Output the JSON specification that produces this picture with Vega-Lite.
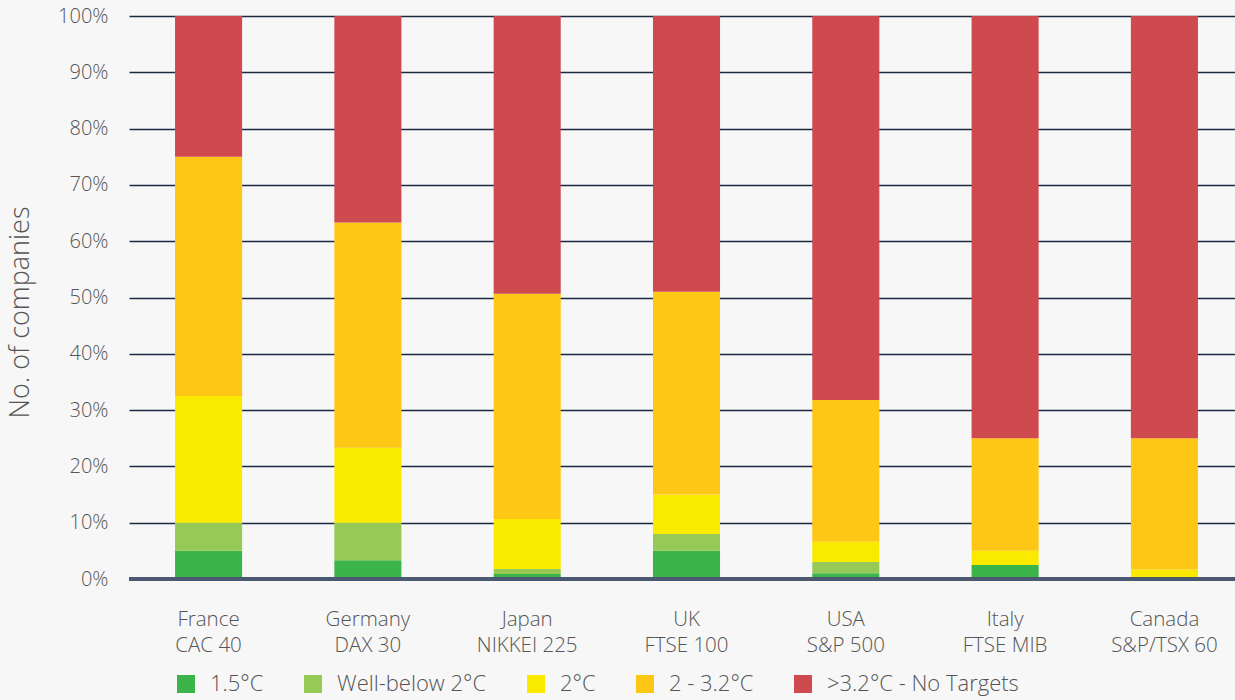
{
  "$schema": "https://vega.github.io/schema/vega-lite/v6.json",
  "width": 1115,
  "height": 563,
  "autosize": {"type": "none"},
  "padding": {"left": 129, "top": 16, "right": 0, "bottom": 121},
  "background": "#f7f7f7",
  "config": {
    "view": {"stroke": null},
    "font": "Open Sans",
    "axis": {"labelFont": "Open Sans", "titleFont": "Open Sans", "labelColor": "#555555", "titleColor": "#555555"}
  },
  "data": {
    "values": [
      {"market": "France|CAC 40", "category": "1.5°C", "ord": 1, "share": 0.05},
      {"market": "France|CAC 40", "category": "Well-below 2°C", "ord": 2, "share": 0.05},
      {"market": "France|CAC 40", "category": "2°C", "ord": 3, "share": 0.225},
      {"market": "France|CAC 40", "category": "2 - 3.2°C", "ord": 4, "share": 0.425},
      {"market": "France|CAC 40", "category": ">3.2°C - No Targets", "ord": 5, "share": 0.25},
      {"market": "Germany|DAX 30", "category": "1.5°C", "ord": 1, "share": 0.0333},
      {"market": "Germany|DAX 30", "category": "Well-below 2°C", "ord": 2, "share": 0.0667},
      {"market": "Germany|DAX 30", "category": "2°C", "ord": 3, "share": 0.1333},
      {"market": "Germany|DAX 30", "category": "2 - 3.2°C", "ord": 4, "share": 0.40},
      {"market": "Germany|DAX 30", "category": ">3.2°C - No Targets", "ord": 5, "share": 0.3667},
      {"market": "Japan|NIKKEI 225", "category": "1.5°C", "ord": 1, "share": 0.0089},
      {"market": "Japan|NIKKEI 225", "category": "Well-below 2°C", "ord": 2, "share": 0.0089},
      {"market": "Japan|NIKKEI 225", "category": "2°C", "ord": 3, "share": 0.0889},
      {"market": "Japan|NIKKEI 225", "category": "2 - 3.2°C", "ord": 4, "share": 0.40},
      {"market": "Japan|NIKKEI 225", "category": ">3.2°C - No Targets", "ord": 5, "share": 0.4933},
      {"market": "UK|FTSE 100", "category": "1.5°C", "ord": 1, "share": 0.05},
      {"market": "UK|FTSE 100", "category": "Well-below 2°C", "ord": 2, "share": 0.03},
      {"market": "UK|FTSE 100", "category": "2°C", "ord": 3, "share": 0.07},
      {"market": "UK|FTSE 100", "category": "2 - 3.2°C", "ord": 4, "share": 0.36},
      {"market": "UK|FTSE 100", "category": ">3.2°C - No Targets", "ord": 5, "share": 0.49},
      {"market": "USA|S&P 500", "category": "1.5°C", "ord": 1, "share": 0.01},
      {"market": "USA|S&P 500", "category": "Well-below 2°C", "ord": 2, "share": 0.02},
      {"market": "USA|S&P 500", "category": "2°C", "ord": 3, "share": 0.036},
      {"market": "USA|S&P 500", "category": "2 - 3.2°C", "ord": 4, "share": 0.252},
      {"market": "USA|S&P 500", "category": ">3.2°C - No Targets", "ord": 5, "share": 0.682},
      {"market": "Italy|FTSE MIB", "category": "1.5°C", "ord": 1, "share": 0.025},
      {"market": "Italy|FTSE MIB", "category": "Well-below 2°C", "ord": 2, "share": 0},
      {"market": "Italy|FTSE MIB", "category": "2°C", "ord": 3, "share": 0.025},
      {"market": "Italy|FTSE MIB", "category": "2 - 3.2°C", "ord": 4, "share": 0.20},
      {"market": "Italy|FTSE MIB", "category": ">3.2°C - No Targets", "ord": 5, "share": 0.75},
      {"market": "Canada|S&P/TSX 60", "category": "1.5°C", "ord": 1, "share": 0},
      {"market": "Canada|S&P/TSX 60", "category": "Well-below 2°C", "ord": 2, "share": 0},
      {"market": "Canada|S&P/TSX 60", "category": "2°C", "ord": 3, "share": 0.0167},
      {"market": "Canada|S&P/TSX 60", "category": "2 - 3.2°C", "ord": 4, "share": 0.2333},
      {"market": "Canada|S&P/TSX 60", "category": ">3.2°C - No Targets", "ord": 5, "share": 0.75}
    ]
  },
  "layer": [
    {
      "mark": {"type": "bar"},
      "encoding": {
        "x": {
          "field": "market",
          "type": "nominal",
          "sort": null,
          "scale": {"paddingInner": 0.579, "paddingOuter": 0.289},
          "axis": {
            "title": null,
            "domain": false,
            "ticks": false,
            "labelAngle": 0,
            "labelExpr": "split(datum.label, '|')",
            "labelFontSize": 20.5,
            "labelLineHeight": 26,
            "labelPadding": 30,
            "labelFontWeight": 300,
            "labelLimit": 300
          }
        },
        "y": {
          "field": "share",
          "type": "quantitative",
          "stack": "zero",
          "scale": {"domain": [0, 1], "nice": false},
          "axis": {
            "title": "No. of companies",
            "values": [0, 0.1, 0.2, 0.3, 0.4, 0.5, 0.6, 0.7, 0.8, 0.9, 1],
            "format": ".0%",
            "domain": false,
            "ticks": false,
            "grid": true,
            "gridColor": "#1c2841",
            "gridWidth": 1.5,
            "labelFontSize": 20,
            "labelFontWeight": 300,
            "labelPadding": 21,
            "titleFontSize": 27,
            "titleFontWeight": 300,
            "titleAngle": -90,
            "titleX": -109,
            "titleY": 296,
            "titleAlign": "center",
            "titleBaseline": "middle"
          }
        },
        "color": {
          "field": "category",
          "type": "nominal",
          "sort": ["1.5°C", "Well-below 2°C", "2°C", "2 - 3.2°C", ">3.2°C - No Targets"],
          "scale": {
            "domain": ["1.5°C", "Well-below 2°C", "2°C", "2 - 3.2°C", ">3.2°C - No Targets"],
            "range": ["#3bb54a", "#97c957", "#f9ea00", "#fec615", "#cf4a4f"]
          },
          "legend": {
            "title": null,
            "orient": "none",
            "direction": "horizontal",
            "legendX": 46,
            "legendY": 657,
            "symbolType": "square",
            "symbolSize": 324,
            "symbolStrokeWidth": 0,
            "labelFontSize": 22,
            "labelFontWeight": 300,
            "labelColor": "#555555",
            "labelFont": "Open Sans",
            "labelOffset": 13,
            "columnPadding": 38,
            "labelLimit": 300
          }
        },
        "order": {"field": "ord", "type": "quantitative"}
      }
    },
    {
      "mark": {"type": "rule", "color": "#4b5a70", "strokeWidth": 2.5},
      "encoding": {"y": {"datum": 0}}
    }
  ]
}
